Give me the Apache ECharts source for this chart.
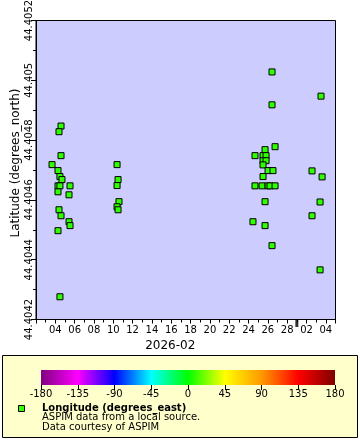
<!DOCTYPE html>
<html><head><meta charset="utf-8">
<script src="https://cdn.jsdelivr.net/npm/echarts@6/dist/echarts.min.js"></script>
<style>html,body{margin:0;padding:0;background:#fff}#c{width:360px;height:440px}</style>
</head><body><div id="c"></div>
<script>
// ---- data ----
const times = [
  "2026-02-04 14:10","2026-02-04 09:10","2026-02-04 14:10","2026-02-03 15:50","2026-02-04 06:40",
  "2026-02-04 11:30","2026-02-04 16:30","2026-02-04 06:40","2026-02-04 11:30","2026-02-05 12:30",
  "2026-02-04 06:40","2026-02-05 10:00","2026-02-04 09:10","2026-02-04 14:10","2026-02-05 10:00",
  "2026-02-05 12:30","2026-02-04 06:40","2026-02-04 11:30",
  "2026-02-10 09:20","2026-02-10 11:50","2026-02-10 09:20","2026-02-10 14:10","2026-02-10 09:20","2026-02-10 11:50",
  "2026-02-26 10:20","2026-02-26 10:20","2026-02-26 17:50","2026-02-25 17:00","2026-02-24 16:00",
  "2026-02-25 12:00","2026-02-25 19:30","2026-02-25 12:00","2026-02-25 19:30","2026-02-25 12:00",
  "2026-02-26 00:30","2026-02-26 12:40","2026-02-25 12:00","2026-02-24 16:00","2026-02-25 09:40",
  "2026-02-26 00:30","2026-02-26 05:20","2026-02-26 17:50","2026-02-25 17:00","2026-02-24 11:00",
  "2026-02-25 17:00","2026-02-26 10:20",
  "2026-03-03 12:00","2026-03-02 13:40","2026-03-03 14:40","2026-03-03 09:40","2026-03-02 13:40","2026-03-03 09:40"
];
const lats = [
  44.404847,44.404828,44.404748,44.404718,44.404698,
  44.404678,44.404668,44.404647,44.404647,44.404647,
  44.404627,44.404617,44.404567,44.404547,44.404527,
  44.404514,44.404497,44.404276,
  44.404718,44.404668,44.404648,44.404594,44.404577,44.404567,
  44.405028,44.404918,44.404778,44.404768,44.404748,
  44.404748,44.404748,44.404731,44.404731,44.404717,
  44.404698,44.404698,44.404678,44.404647,44.404647,
  44.404647,44.404647,44.404647,44.404594,44.404527,
  44.404514,44.404447,
  44.404947,44.404697,44.404677,44.404593,44.404547,44.404366
];
const lons = times.map(() => 8.5); // all points share the same longitude colour (~green)
const monthStarts = ["2026-03-01 00:00"];
const colorStops = [-180,-135,-90,-45,0,45,90,135,180];
const colorList = ["#800080","#ff00ff","#0000ff","#00ffff","#00ff00","#ffff00","#ff9900","#ff0000","#800000"];
const xTitle = "2026-02";
const yTitle = "Latitude (degrees_north)";
const legendTitle = "Longitude (degrees_east)";
const legendLines = ["ASPIM data from a local source.", "Data courtesy of ASPIM"];
// ---- helpers ----
function toMs(s){const [d,t]=s.split(" ");const [Y,M,D]=d.split("-").map(Number);const [h,m]=t.split(":").map(Number);return Date.UTC(Y,M-1,D,h,m);}
function hex(c){return [1,3,5].map(i=>parseInt(c.substr(i,2),16));}
function lonColor(v){
  for(let i=0;i<colorStops.length-1;i++){
    if(v<=colorStops[i+1]){const f=(v-colorStops[i])/(colorStops[i+1]-colorStops[i]);
      const a=hex(colorList[i]),b=hex(colorList[i+1]);
      return 'rgb('+a.map((x,k)=>Math.round(x+(b[k]-x)*f)).join(',')+')';}
  }
  return colorList[colorList.length-1];
}
const DAY=86400000;
const xMin=Date.UTC(2026,1,2), xMax=Date.UTC(2026,2,5);
const yMin=44.4042, yMax=44.4052;
const font='DejaVu Sans';
const pts = times.map((t,i)=>[toMs(t),lats[i],lons[i]]);
const chart = echarts.init(document.getElementById('c'), null, {renderer:'canvas'});
chart.setOption({
  animation:false,
  backgroundColor:'#ffffff',
  textStyle:{fontFamily:font},
  grid:[
    {left:36,top:20.5,right:24.5,bottom:120.5,containLabel:false,outerBoundsMode:'none',
     show:true,backgroundColor:'#ccccff',borderColor:'#000',borderWidth:1},
    {left:41,top:370,width:294,height:15,containLabel:false,outerBoundsMode:'none',show:true,borderWidth:0,
     backgroundColor:{type:'linear',x:0,y:0,x2:1,y2:0,colorStops:colorList.map((c,i)=>({offset:i/(colorList.length-1),color:c}))}}
  ],
  xAxis:[
    {type:'value',gridIndex:0,min:xMin,max:xMax,interval:2*DAY,
     name:xTitle,nameLocation:'middle',nameGap:20,nameMoveOverlap:false,
     nameTextStyle:{fontSize:12,color:'#000',fontFamily:font,padding:[0,31,0,0]},
     axisLine:{show:true,onZero:false,lineStyle:{color:'#000',width:1}},
     axisTick:{show:true,length:4,lineStyle:{color:'#000'}},
     minorTick:{show:true,splitNumber:2,length:3,lineStyle:{color:'#000'}},
     splitLine:{show:false},
     axisLabel:{color:'#000',fontSize:10,fontFamily:font,margin:6,showMinLabel:false,showMaxLabel:false,
       formatter:v=>String(new Date(v).getUTCDate()).padStart(2,'0')}},
    {type:'value',gridIndex:1,min:-180,max:180,interval:45,
     axisLine:{show:false},axisTick:{show:true,length:5,inside:false,lineStyle:{color:'#000'}},
     splitLine:{show:false},
     axisLabel:{color:'#000',fontSize:10,fontFamily:font,margin:4}}
  ],
  yAxis:[
    {type:'value',gridIndex:0,min:yMin,max:yMax,interval:0.0002,
     name:yTitle,nameLocation:'middle',nameGap:14,nameMoveOverlap:false,
     nameTextStyle:{fontSize:12,color:'#000',fontFamily:font,padding:[0,0,0,14]},
     axisLine:{show:true,onZero:false,lineStyle:{color:'#000',width:1}},
     axisTick:{show:true,length:5,lineStyle:{color:'#000'}},
     minorTick:{show:true,splitNumber:2,length:3,lineStyle:{color:'#000'}},
     splitLine:{show:false},
     axisLabel:{color:'#000',fontSize:10,fontFamily:font,rotate:90,margin:2,
       formatter:v=>String(parseFloat(v.toFixed(4)))}},
    {type:'value',gridIndex:1,show:false,min:0,max:1}
  ],
  series:[
    {type:'scatter',xAxisIndex:0,yAxisIndex:0,data:pts,symbol:'rect',symbolSize:6,
     itemStyle:{color:p=>lonColor(p.value[2]),borderColor:'#000',borderWidth:1,opacity:1},
     emphasis:{disabled:true},z:3},
    {type:'scatter',xAxisIndex:0,yAxisIndex:0,data:monthStarts.map(t=>[toMs(t),yMin]),
     symbol:'rect',symbolSize:[3,7],symbolOffset:[0,4],clip:false,silent:true,
     itemStyle:{color:'#000'},z:4}
  ],
  graphic:[
    {type:'rect',z:-1,shape:{x:2.5,y:355.5,width:355,height:82},style:{fill:'#ffffcc',stroke:'#000',lineWidth:1}},
    {type:'rect',z:10,shape:{x:18.5,y:405.5,width:6,height:6},style:{fill:lonColor(lons[0]),stroke:'#000',lineWidth:1}},
    {type:'text',z:10,x:42,y:408,style:{text:legendTitle,font:'bold 10px "DejaVu Sans"',fill:'#000',textVerticalAlign:'middle'}},
    {type:'text',z:10,x:42,y:417.5,style:{text:legendLines[0],font:'10px "DejaVu Sans"',fill:'#000',textVerticalAlign:'middle'}},
    {type:'text',z:10,x:42,y:427,style:{text:legendLines[1],font:'10px "DejaVu Sans"',fill:'#000',textVerticalAlign:'middle'}}
  ]
});
</script></body></html>
